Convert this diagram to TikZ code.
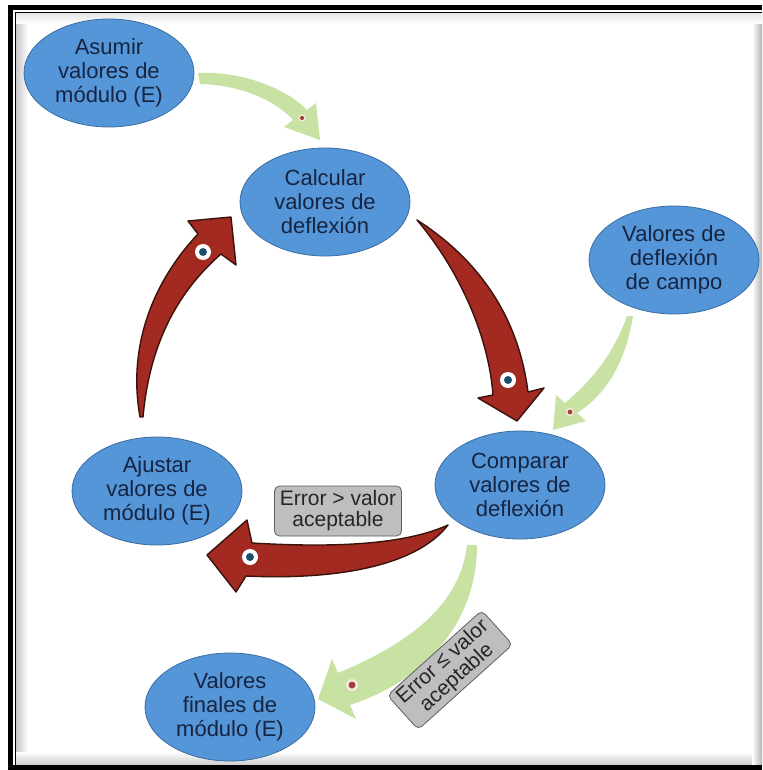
\documentclass[tikz,border=0pt]{standalone}
\usepackage{fontspec}
\setmainfont{Liberation Sans}
\usetikzlibrary{shapes.geometric}
\definecolor{ellblue}{RGB}{84,150,215}
\definecolor{ellline}{RGB}{58,108,162}
\definecolor{navytext}{RGB}{22,36,66}
\definecolor{redfill}{RGB}{163,42,32}
\definecolor{redline}{RGB}{58,18,12}
\definecolor{greenfill}{RGB}{200,226,164}
\definecolor{boxgray}{RGB}{190,190,190}
\definecolor{boxline}{RGB}{95,95,95}
\definecolor{dotteal}{RGB}{28,78,110}
\definecolor{dotred}{RGB}{160,68,58}
\definecolor{dotring}{RGB}{245,232,220}
\begin{document}
\begin{tikzpicture}[x=1pt,y=-1pt,
  stage/.style={ellipse, fill=ellblue, draw=ellline, line width=0.8pt,
    minimum width=170pt, minimum height=108pt, inner sep=0pt, align=center,
    text=navytext, font=\fontsize{22}{24}\selectfont},
  condbox/.style={rectangle, rounded corners=5pt, fill=boxgray, draw=boxline,
    line width=0.8pt, align=center, text=black!85, inner sep=2pt,
    minimum width=127pt, minimum height=50pt, font=\fontsize{21}{21}\selectfont},
  redarrow/.style={fill=redfill, draw=redline, line width=1.4pt, line join=round},
  greenarrow/.style={fill=greenfill, draw=none},
  reddot/.pic={\fill[white] (0,0) circle (8pt); \fill[dotteal] (0,0) circle (4pt);},
  greendot/.pic={\fill[dotring] (0,0) circle (6pt); \fill[dotred] (0,0) circle (3.5pt);}
]
% page and frame
\useasboundingbox (0,0) rectangle (762,770);
\fill[white] (0,0) rectangle (762,770);
\shade[left color=black!22, right color=white] (16,13) rectangle (28,765);
\shade[top color=white, bottom color=black!20] (16,752) rectangle (762,765);
\shade[left color=white, right color=black!30] (752,13) rectangle (762,765);
\shade[top color=black!10, bottom color=white] (16,13) rectangle (762,24);
\fill[black] (8,5) rectangle (762,10);
\fill[black] (8,5) rectangle (13,770);
\fill[black] (8,765) rectangle (762,770);
\draw[black, line width=1pt] (15.5,12.5) -- (762,12.5);
\draw[black, line width=1pt] (15.5,12.5) -- (15.5,765);

% light green arrows
\path[greenarrow] (198,73) .. controls (245,71) and (288,90) .. (307,110)
  -- (316,103) -- (320,140) -- (284,127) -- (293,120)
  .. controls (275,100) and (240,85) .. (200,84) -- cycle;
\path[greenarrow] (633,316) .. controls (625,365) and (605,395) .. (577,413)
  -- (586,421) -- (553,430) -- (556,395) -- (565,403)
  .. controls (592,380) and (613,355) .. (627,316) -- cycle;
\path[greenarrow] (477,545) .. controls (477,622) and (426,680) .. (350,705)
  -- (356,719) -- (318,699) -- (332,659) -- (338,673)
  .. controls (410,643) and (460,605) .. (467,545) -- cycle;

% dark red cycle arrows
\path[redarrow] (417,220) .. controls (467,252) and (517,305) .. (528,392)
  -- (544,388) -- (517,421) -- (478,398) -- (493,395)
  .. controls (488,330) and (455,265) .. (417,220) -- cycle;
\path[redarrow] (448,525) .. controls (400,547) and (320,547) .. (252,543)
  -- (247,520) -- (207,555) -- (236,592) -- (246,576)
  .. controls (330,580) and (415,568) .. (448,525) -- cycle;
\path[redarrow] (140,417) .. controls (128,350) and (150,285) .. (198,234)
  -- (188,221) -- (231,217) -- (236,265) -- (221,254)
  .. controls (180,290) and (150,340) .. (143,417) -- cycle;

% markers on the arrows
\pic at (508,380) {reddot};
\pic at (250,557) {reddot};
\pic at (203,252) {reddot};
\pic[scale=0.6] at (302,118) {greendot};
\pic[scale=0.7] at (570,412) {greendot};
\pic at (352,685) {greendot};

% process stages
\node[stage] (asumir)   at (109,73)  {Asumir\\valores de\\módulo (E)};
\node[stage] (calcular) at (325,202) {Calcular\\valores de\\deflexión};
\node[stage] (campo)    at (674,260) {Valores de\\deflexión\\de campo};
\node[stage] (comparar) at (520,485) {Comparar\\valores de\\deflexión};
\node[stage] (ajustar)  at (157,491) {Ajustar\\valores de\\módulo (E)};
\node[stage] (finales)  at (230,707) {Valores\\finales de\\módulo (E)};

% decision labels
\node[condbox] (errmayor) at (338,511) {Error > valor\\aceptable};
\node[condbox, rotate=42, minimum height=46pt] (errmenor) at (450,670) {Error ≤ valor\\aceptable};
\end{tikzpicture}
\end{document}
